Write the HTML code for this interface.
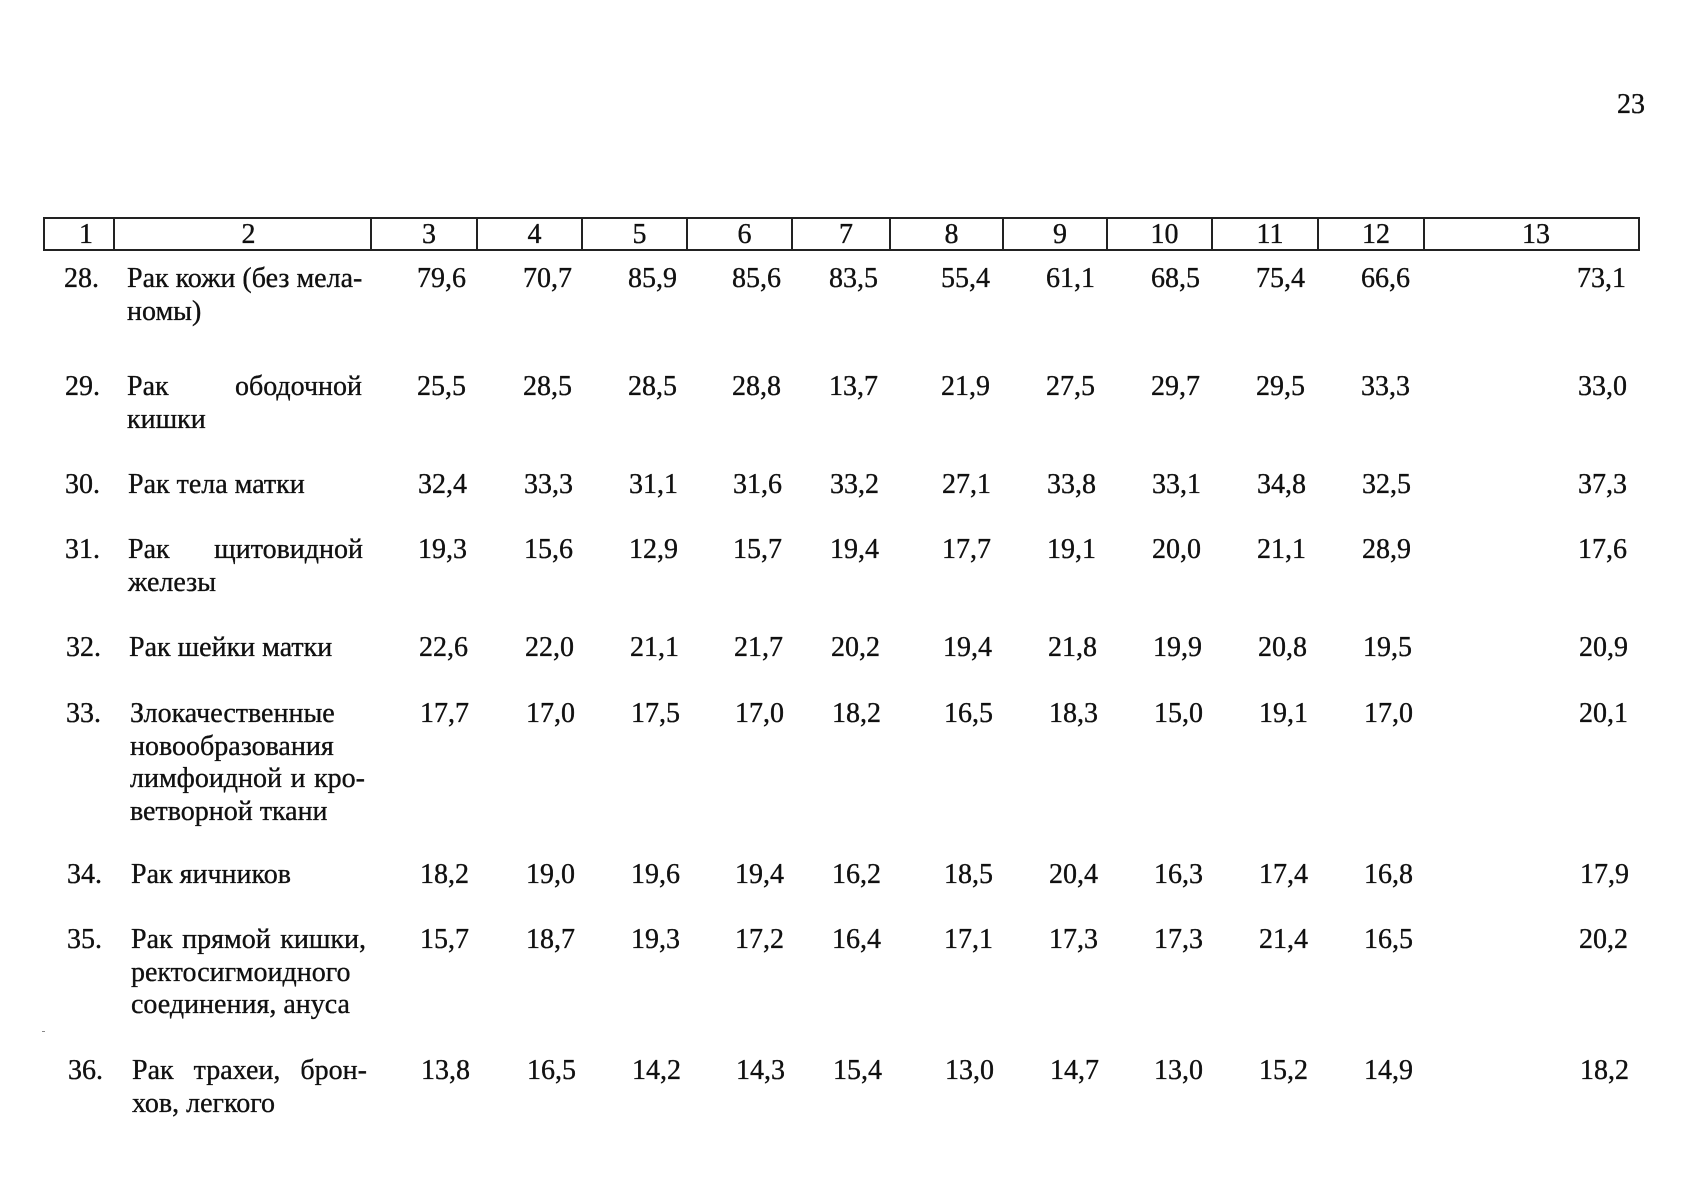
<!DOCTYPE html>
<html>
<head>
<meta charset="utf-8">
<style>
  html, body { margin:0; padding:0; background:#fff; }
  body { width:1695px; height:1200px; position:relative; overflow:hidden;
         font-family:"Liberation Serif", "Noto Serif CJK SC", serif; color:#111; }
  .t, .lab, .hn { -webkit-text-stroke:0.35px #111; }
  .t { position:absolute; font-size:28px; line-height:32.5px; white-space:nowrap; }
  .lab { position:absolute; font-size:28px; line-height:32.5px; width:235px; }
  .lab div { white-space:nowrap; }
  .j { text-align:justify; text-align-last:justify; }
  .hdr { position:absolute; top:217px; height:34px; border:2px solid #222; box-sizing:border-box; }
  .vl { position:absolute; top:217px; width:2px; height:34px; background:#222; }
  .hn { position:absolute; top:218px; height:34px; line-height:34px; font-size:28px; text-align:center; }
</style>
</head>
<body>

<div class="t" style="left:1617px; top:89px;">23</div>

<!-- header row -->
<div class="hdr" style="left:43px; width:1597px;"></div>
<div class="vl" style="left:113px;"></div>
<div class="vl" style="left:370px;"></div>
<div class="vl" style="left:476px;"></div>
<div class="vl" style="left:581px;"></div>
<div class="vl" style="left:686px;"></div>
<div class="vl" style="left:791px;"></div>
<div class="vl" style="left:889px;"></div>
<div class="vl" style="left:1002px;"></div>
<div class="vl" style="left:1106px;"></div>
<div class="vl" style="left:1211px;"></div>
<div class="vl" style="left:1317px;"></div>
<div class="vl" style="left:1423px;"></div>

<div class="hn" style="left:52px; width:68px;">1</div>
<div class="hn" style="left:121px; width:255px;">2</div>
<div class="hn" style="left:377px; width:104px;">3</div>
<div class="hn" style="left:483px; width:103px;">4</div>
<div class="hn" style="left:588px; width:103px;">5</div>
<div class="hn" style="left:693px; width:103px;">6</div>
<div class="hn" style="left:798px; width:96px;">7</div>
<div class="hn" style="left:896px; width:111px;">8</div>
<div class="hn" style="left:1009px; width:102px;">9</div>
<div class="hn" style="left:1113px; width:103px;">10</div>
<div class="hn" style="left:1218px; width:104px;">11</div>
<div class="hn" style="left:1324px; width:104px;">12</div>
<div class="hn" style="left:1430px; width:212px;">13</div>

<!-- Row 28 -->
<div class="t" style="left:64px; top:263px;">28.</div>
<div class="lab" style="left:127px; top:263px;"><div class="j">Рак кожи (без мела-</div><div>номы)</div></div>
<div class="t" style="left:417px; top:263px;">79,6</div>
<div class="t" style="left:523px; top:263px;">70,7</div>
<div class="t" style="left:628px; top:263px;">85,9</div>
<div class="t" style="left:732px; top:263px;">85,6</div>
<div class="t" style="left:829px; top:263px;">83,5</div>
<div class="t" style="left:941px; top:263px;">55,4</div>
<div class="t" style="left:1046px; top:263px;">61,1</div>
<div class="t" style="left:1151px; top:263px;">68,5</div>
<div class="t" style="left:1256px; top:263px;">75,4</div>
<div class="t" style="left:1361px; top:263px;">66,6</div>
<div class="t" style="left:1577px; top:263px;">73,1</div>

<!-- Row 29 -->
<div class="t" style="left:65px; top:371px;">29.</div>
<div class="lab" style="left:127px; top:371px;"><div class="j">Рак ободочной</div><div>кишки</div></div>
<div class="t" style="left:417px; top:371px;">25,5</div>
<div class="t" style="left:523px; top:371px;">28,5</div>
<div class="t" style="left:628px; top:371px;">28,5</div>
<div class="t" style="left:732px; top:371px;">28,8</div>
<div class="t" style="left:829px; top:371px;">13,7</div>
<div class="t" style="left:941px; top:371px;">21,9</div>
<div class="t" style="left:1046px; top:371px;">27,5</div>
<div class="t" style="left:1151px; top:371px;">29,7</div>
<div class="t" style="left:1256px; top:371px;">29,5</div>
<div class="t" style="left:1361px; top:371px;">33,3</div>
<div class="t" style="left:1578px; top:371px;">33,0</div>

<!-- Row 30 -->
<div class="t" style="left:65px; top:469px;">30.</div>
<div class="lab" style="left:128px; top:469px;"><div>Рак тела матки</div></div>
<div class="t" style="left:418px; top:469px;">32,4</div>
<div class="t" style="left:524px; top:469px;">33,3</div>
<div class="t" style="left:629px; top:469px;">31,1</div>
<div class="t" style="left:733px; top:469px;">31,6</div>
<div class="t" style="left:830px; top:469px;">33,2</div>
<div class="t" style="left:942px; top:469px;">27,1</div>
<div class="t" style="left:1047px; top:469px;">33,8</div>
<div class="t" style="left:1152px; top:469px;">33,1</div>
<div class="t" style="left:1257px; top:469px;">34,8</div>
<div class="t" style="left:1362px; top:469px;">32,5</div>
<div class="t" style="left:1578px; top:469px;">37,3</div>

<!-- Row 31 -->
<div class="t" style="left:65px; top:534px;">31.</div>
<div class="lab" style="left:128px; top:534px;"><div class="j">Рак щитовидной</div><div>железы</div></div>
<div class="t" style="left:418px; top:534px;">19,3</div>
<div class="t" style="left:524px; top:534px;">15,6</div>
<div class="t" style="left:629px; top:534px;">12,9</div>
<div class="t" style="left:733px; top:534px;">15,7</div>
<div class="t" style="left:830px; top:534px;">19,4</div>
<div class="t" style="left:942px; top:534px;">17,7</div>
<div class="t" style="left:1047px; top:534px;">19,1</div>
<div class="t" style="left:1152px; top:534px;">20,0</div>
<div class="t" style="left:1257px; top:534px;">21,1</div>
<div class="t" style="left:1362px; top:534px;">28,9</div>
<div class="t" style="left:1578px; top:534px;">17,6</div>

<!-- Row 32 -->
<div class="t" style="left:66px; top:632px;">32.</div>
<div class="lab" style="left:129px; top:632px;"><div>Рак шейки матки</div></div>
<div class="t" style="left:419px; top:632px;">22,6</div>
<div class="t" style="left:525px; top:632px;">22,0</div>
<div class="t" style="left:630px; top:632px;">21,1</div>
<div class="t" style="left:734px; top:632px;">21,7</div>
<div class="t" style="left:831px; top:632px;">20,2</div>
<div class="t" style="left:943px; top:632px;">19,4</div>
<div class="t" style="left:1048px; top:632px;">21,8</div>
<div class="t" style="left:1153px; top:632px;">19,9</div>
<div class="t" style="left:1258px; top:632px;">20,8</div>
<div class="t" style="left:1363px; top:632px;">19,5</div>
<div class="t" style="left:1579px; top:632px;">20,9</div>

<!-- Row 33 -->
<div class="t" style="left:66px; top:698px;">33.</div>
<div class="lab" style="left:130px; top:698px;"><div>Злокачественные</div><div>новообразования</div><div class="j">лимфоидной и кро-</div><div>ветворной ткани</div></div>
<div class="t" style="left:420px; top:698px;">17,7</div>
<div class="t" style="left:526px; top:698px;">17,0</div>
<div class="t" style="left:631px; top:698px;">17,5</div>
<div class="t" style="left:735px; top:698px;">17,0</div>
<div class="t" style="left:832px; top:698px;">18,2</div>
<div class="t" style="left:944px; top:698px;">16,5</div>
<div class="t" style="left:1049px; top:698px;">18,3</div>
<div class="t" style="left:1154px; top:698px;">15,0</div>
<div class="t" style="left:1259px; top:698px;">19,1</div>
<div class="t" style="left:1364px; top:698px;">17,0</div>
<div class="t" style="left:1579px; top:698px;">20,1</div>

<!-- Row 34 -->
<div class="t" style="left:67px; top:859px;">34.</div>
<div class="lab" style="left:131px; top:859px;"><div>Рак яичников</div></div>
<div class="t" style="left:420px; top:859px;">18,2</div>
<div class="t" style="left:526px; top:859px;">19,0</div>
<div class="t" style="left:631px; top:859px;">19,6</div>
<div class="t" style="left:735px; top:859px;">19,4</div>
<div class="t" style="left:832px; top:859px;">16,2</div>
<div class="t" style="left:944px; top:859px;">18,5</div>
<div class="t" style="left:1049px; top:859px;">20,4</div>
<div class="t" style="left:1154px; top:859px;">16,3</div>
<div class="t" style="left:1259px; top:859px;">17,4</div>
<div class="t" style="left:1364px; top:859px;">16,8</div>
<div class="t" style="left:1580px; top:859px;">17,9</div>

<!-- Row 35 -->
<div class="t" style="left:67px; top:924px;">35.</div>
<div class="lab" style="left:131px; top:924px;"><div class="j">Рак прямой кишки,</div><div>ректосигмоидного</div><div>соединения, ануса</div></div>
<div class="t" style="left:420px; top:924px;">15,7</div>
<div class="t" style="left:526px; top:924px;">18,7</div>
<div class="t" style="left:631px; top:924px;">19,3</div>
<div class="t" style="left:735px; top:924px;">17,2</div>
<div class="t" style="left:832px; top:924px;">16,4</div>
<div class="t" style="left:944px; top:924px;">17,1</div>
<div class="t" style="left:1049px; top:924px;">17,3</div>
<div class="t" style="left:1154px; top:924px;">17,3</div>
<div class="t" style="left:1259px; top:924px;">21,4</div>
<div class="t" style="left:1364px; top:924px;">16,5</div>
<div class="t" style="left:1579px; top:924px;">20,2</div>

<!-- speck -->
<div style="position:absolute; left:42px; top:1031px; width:3px; height:1px; background:#888;"></div>

<!-- Row 36 -->
<div class="t" style="left:68px; top:1055px;">36.</div>
<div class="lab" style="left:132px; top:1055px;"><div class="j">Рак трахеи, брон-</div><div>хов, легкого</div></div>
<div class="t" style="left:421px; top:1055px;">13,8</div>
<div class="t" style="left:527px; top:1055px;">16,5</div>
<div class="t" style="left:632px; top:1055px;">14,2</div>
<div class="t" style="left:736px; top:1055px;">14,3</div>
<div class="t" style="left:833px; top:1055px;">15,4</div>
<div class="t" style="left:945px; top:1055px;">13,0</div>
<div class="t" style="left:1050px; top:1055px;">14,7</div>
<div class="t" style="left:1154px; top:1055px;">13,0</div>
<div class="t" style="left:1259px; top:1055px;">15,2</div>
<div class="t" style="left:1364px; top:1055px;">14,9</div>
<div class="t" style="left:1580px; top:1055px;">18,2</div>

</body>
</html>
